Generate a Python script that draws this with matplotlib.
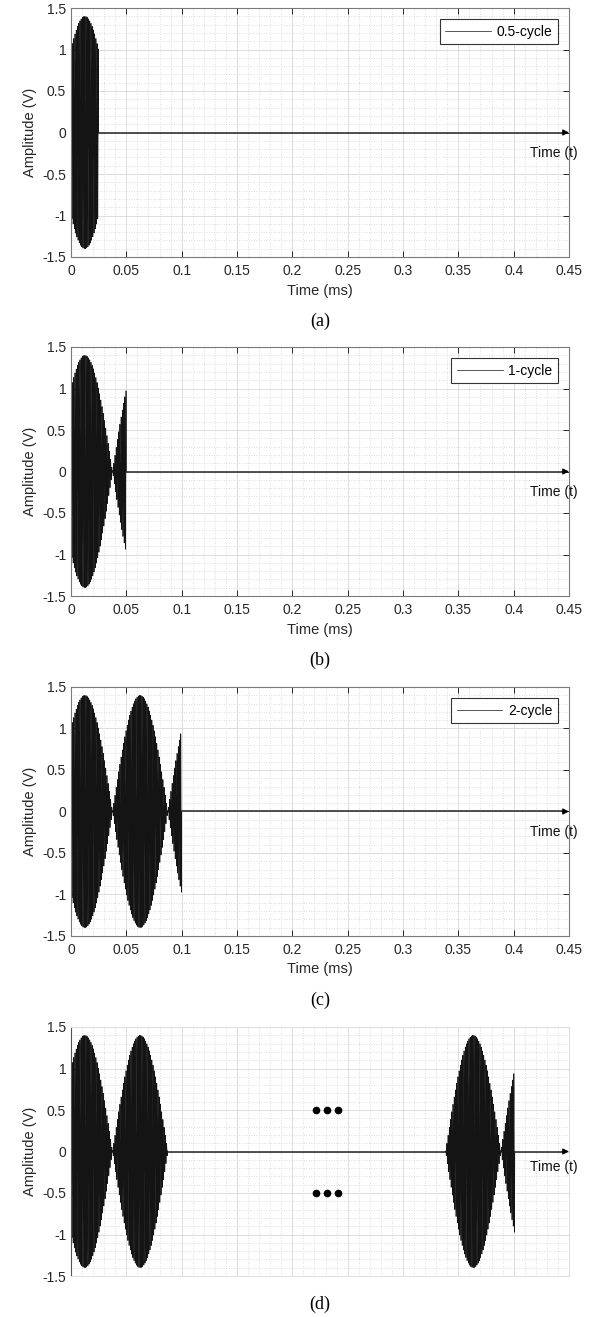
import numpy as np
import matplotlib.pyplot as plt
from matplotlib.ticker import MultipleLocator

plt.rcParams['font.family'] = ['Liberation Sans', 'DejaVu Sans']

# burst parameters (times in ms)
amp = 1.4                   # peak amplitude (V)
env_period = 0.05           # period of |envelope| (ms)
env_peak = 0.0125           # first envelope peak (ms)
carrier_khz = 900           # carrier frequency (kHz)
burst_ends = [0.025, 0.05, 0.1]
legend_names = ['0.5-cycle', '1-cycle', '2-cycle']
captions = ['(a)', '(b)', '(c)', '(d)']
# panel (d): (start, end, time shift) of each burst piece
d_pieces = [(0.0, 0.0875, 0.0), (0.3385, 0.401, 0.301)]
d_dots_x = [0.221, 0.231, 0.241]
d_dots_y = [0.5, -0.5]
x_end = 0.45
xticks = np.arange(0, 0.451, 0.05)
yticks = [-1.5, -1, -0.5, 0, 0.5, 1, 1.5]


def burst(t0, t1, shift):
    t = np.linspace(t0, t1, int((t1 - t0) * 60000) + 2)
    tr = t - shift
    env = amp * np.cos(np.pi * (tr - env_peak) / env_period)
    return t, env * np.sin(2 * np.pi * carrier_khz * tr)


W, H = 602, 1317
fig = plt.figure(figsize=(W / 100, H / 100), dpi=100)
tops = [8, 347, 687, 1027]
ax_h = 249


def setup(ax, show_x=True):
    ax.set_xlim(0, x_end)
    ax.set_ylim(-1.5, 1.5)
    ax.set_yticks(yticks)
    ax.set_yticklabels(['-1.5', '-1', '-0.5', '0', '0.5', '1', '1.5'])
    ax.xaxis.set_major_locator(MultipleLocator(0.05))
    ax.xaxis.set_minor_locator(MultipleLocator(0.01))
    ax.yaxis.set_minor_locator(MultipleLocator(0.1))
    ax.grid(True, which='major', color='#dcdcdc', lw=0.7)
    ax.grid(True, which='minor', color='#d4d4d4', lw=0.6, ls=(0, (1, 2)))
    ax.set_axisbelow(True)
    ax.tick_params(which='major', direction='in', length=4, width=0.7,
                   labelsize=10, colors='#262626', top=show_x, right=show_x)
    ax.tick_params(which='minor', length=0)
    ax.tick_params(axis='x', pad=5)
    ax.set_ylabel('Amplitude (V)', fontsize=10.5, color='#262626', labelpad=4)
    for s in ax.spines.values():
        s.set_color('#7a7a7a')
        s.set_linewidth(0.8)


def arrow(ax, x0, ty):
    ax.plot([x0, x_end - 0.004], [0, 0], color='#222222', lw=1.1)
    ax.annotate('', xy=(x_end, 0), xytext=(x_end - 0.006, 0),
                arrowprops=dict(arrowstyle='-|>', color='k', lw=0.8,
                                mutation_scale=9, shrinkA=0, shrinkB=0),
                annotation_clip=False)
    ax.text(0.415, ty, 'Time (t)', fontsize=10, color='#111111',
            va='center', ha='left', clip_on=False)


for i in range(4):
    ax = fig.add_axes([71 / W, 1 - (tops[i] + ax_h) / H, 498 / W, ax_h / H])
    if i < 3:
        setup(ax)
        t, y = burst(0, burst_ends[i], 0)
        ax.plot(t, y, color='#141414', lw=0.5, label=legend_names[i])
        arrow(ax, burst_ends[i], -0.25)
        ax.set_xticks(xticks)
        ax.set_xticklabels(['0', '0.05', '0.1', '0.15', '0.2', '0.25', '0.3',
                            '0.35', '0.4', '0.45'])
        ax.set_xlabel('Time (ms)', fontsize=10.5, color='#262626', labelpad=4)
        leg = ax.legend(loc='upper right', fontsize=10, handlelength=3.3,
                        fancybox=False, framealpha=1, edgecolor='#333333',
                        borderaxespad=0.8, borderpad=0.4, handletextpad=0.4)
        leg.get_frame().set_linewidth(0.8)
        cap_off = 64
    else:
        setup(ax, show_x=False)
        for (a, b, sh) in d_pieces:
            t, y = burst(a, b, sh)
            ax.plot(t, y, color='#141414', lw=0.5)
        ax.plot([d_pieces[0][1], d_pieces[1][0]], [0, 0], color='#222222', lw=1.1)
        arrow(ax, d_pieces[1][1], -0.19)
        for yy in d_dots_y:
            ax.plot(d_dots_x, [yy] * 3, 'o', color='k', ms=4.5, ls='none')
        ax.tick_params(axis='x', which='both', bottom=False, labelbottom=False)
        ax.tick_params(axis='y', which='major', right=False)
        for k in ['top', 'bottom', 'right']:
            ax.spines[k].set_color('#dedede')
        ax.spines['left'].set_color('#555555')
        cap_off = 28
    ax.text(0.5, -cap_off / ax_h, captions[i], transform=ax.transAxes,
            ha='center', va='center', fontsize=13, family='Liberation Serif')

fig.savefig('out.png', dpi=100)
